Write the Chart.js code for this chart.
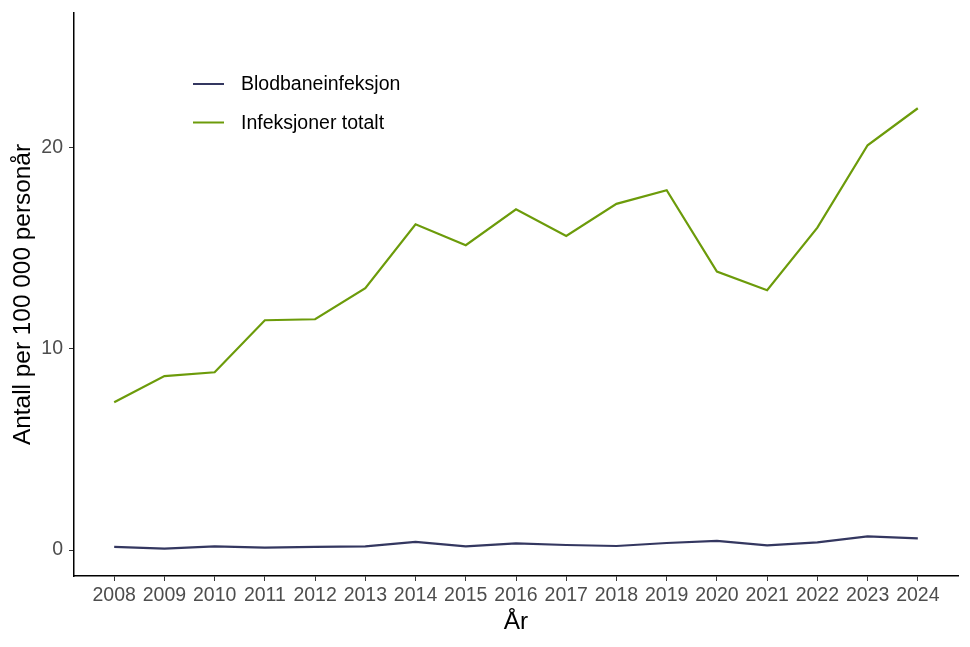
<!DOCTYPE html>
<html lang="no">
<head>
<meta charset="UTF-8" />
<title>Infeksjoner</title>
<script src="https://cdn.jsdelivr.net/npm/chart.js@4/dist/chart.umd.min.js"></script>
<style>
  html, body { margin: 0; padding: 0; background: #fff; }
  #wrap { width: 970px; height: 647px; }
</style>
</head>
<body>
<div id="wrap"><canvas id="chart" width="970" height="647"></canvas></div>
<script>

// data
const years = [2008, 2009, 2010, 2011, 2012, 2013, 2014, 2015, 2016,
               2017, 2018, 2019, 2020, 2021, 2022, 2023, 2024];
const blod = [0.16, 0.07, 0.18, 0.12, 0.16, 0.18, 0.40, 0.18, 0.33,
              0.25, 0.20, 0.35, 0.45, 0.23, 0.38, 0.68, 0.58];
const totalt = [7.34, 8.64, 8.83, 11.41, 11.46, 13.0, 16.18, 15.14, 16.92,
                15.6, 17.19, 17.87, 13.83, 12.9, 16.01, 20.1, 21.94];
const yTicks = [0, 10, 20];
const seriesNames = ['Blodbaneinfeksjon', 'Infeksjoner totalt'];
const seriesColors = ['#343760', '#6c9b0a'];

const toPoints = vals => years.map((y, i) => ({ x: y, y: vals[i] }));

// legend drawn inside the panel, like ggplot's
const insideLegend = {
    id: 'insideLegend',
    afterDraw(chart) {
        const ctx = chart.ctx;
        const a = chart.chartArea;
        ctx.save();
        ctx.font = '19.5px "Liberation Sans", Arial, sans-serif';
        ctx.textBaseline = 'middle';
        ctx.fillStyle = '#000';
        seriesNames.forEach((name, i) => {
            const y = a.top + 71 + i * 38.5;
            ctx.strokeStyle = seriesColors[i];
            ctx.lineWidth = 2;
            ctx.beginPath();
            ctx.moveTo(a.left + 119, y);
            ctx.lineTo(a.left + 150, y);
            ctx.stroke();
            ctx.fillText(name, a.left + 167, y + 1);
        });
        ctx.restore();
    }
};

const ctx = document.getElementById('chart').getContext('2d');
new Chart(ctx, {
    type: 'line',
    data: {
        datasets: [
            { label: seriesNames[0], data: toPoints(blod), borderColor: seriesColors[0],
              borderWidth: 2.2, pointRadius: 0, tension: 0, fill: false },
            { label: seriesNames[1], data: toPoints(totalt), borderColor: seriesColors[1],
              borderWidth: 2.2, pointRadius: 0, tension: 0, fill: false }
        ]
    },
    options: {
        responsive: false,
        animation: false,
        layout: { padding: { top: 13, right: 12, left: 0, bottom: 0 } },
        plugins: {
            legend: { display: false },
            tooltip: { enabled: false }
        },
        scales: {
            x: {
                type: 'linear',
                min: 2007.2,
                max: 2024.8,
                afterBuildTicks: s => { s.ticks = years.map(v => ({ value: v })); },
                afterFit: s => { s.height = 71; s.paddingLeft = 0; s.paddingRight = 0; },
                border: { display: true, color: '#000', width: 1.5 },
                grid: { drawOnChartArea: false, drawTicks: true, tickLength: 5, color: '#333' },
                ticks: {
                    color: '#4d4d4d',
                    padding: 3,
                    maxRotation: 0,
                    autoSkip: false,
                    font: { family: '"Liberation Sans", Arial, sans-serif', size: 19.5 },
                    callback: v => String(v)
                },
                title: {
                    display: true,
                    text: 'År',
                    color: '#000',
                    padding: { top: 0, bottom: 10 },
                    font: { family: '"Liberation Sans", Arial, sans-serif', size: 24.4 }
                }
            },
            y: {
                min: -1.29,
                max: 26.67,
                afterBuildTicks: s => { s.ticks = yTicks.map(v => ({ value: v })); },
                afterFit: s => { s.width = 74; s.paddingTop = 0; s.paddingBottom = 0; },
                border: { display: true, color: '#000', width: 1.5 },
                grid: { drawOnChartArea: false, drawTicks: true, tickLength: 5, color: '#333' },
                ticks: {
                    color: '#4d4d4d',
                    padding: 6,
                    font: { family: '"Liberation Sans", Arial, sans-serif', size: 19.5 }
                },
                title: {
                    display: true,
                    text: 'Antall per 100 000 personår',
                    color: '#000',
                    padding: { top: 9, bottom: 0 },
                    font: { family: '"Liberation Sans", Arial, sans-serif', size: 24.4 }
                }
            }
        }
    },
    plugins: [insideLegend]
});
</script>
</body>
</html>
